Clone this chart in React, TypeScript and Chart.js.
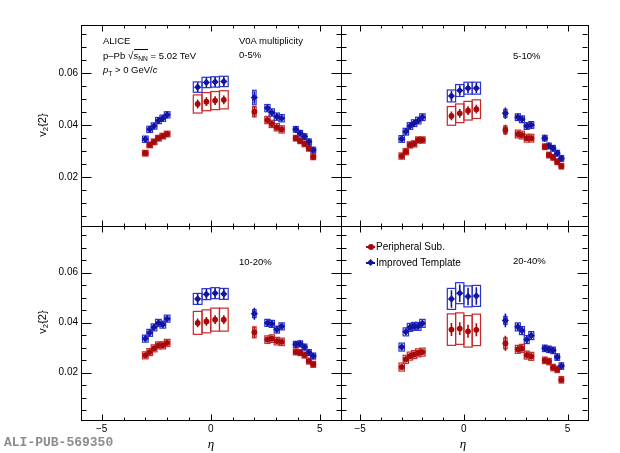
import React, { useEffect, useRef } from 'react';
import { Chart, registerables } from 'chart.js';

Chart.register(...registerables);

// ---------- data ----------
const eta = [-3.0, -2.8, -2.6, -2.4, -2.2, -2.0, -0.6, -0.2, 0.2, 0.6, 2.0, 2.6, 2.8, 3.03, 3.25, 3.9, 4.1, 4.3, 4.5, 4.7];
const boxHalfWidth = [0.13, 0.13, 0.13, 0.13, 0.13, 0.13, 0.2, 0.2, 0.2, 0.2, 0.08, 0.12, 0.12, 0.12, 0.12, 0.11, 0.11, 0.11, 0.11, 0.11];

const seriesNames = ['Peripheral Sub.', 'Improved Template'];
const centralityLabels = ['0-5%', '5-10%', '10-20%', '20-40%'];
const xMajorTicks = [-5, 0, 5];
const yMajorTicks = [0.02, 0.04, 0.06];

// 0-5%
const per1 = [0.0291, 0.0323, 0.0335, 0.0349, 0.0357, 0.0365, 0.0481, 0.0490, 0.0494, 0.0497, 0.0451, 0.0419, 0.0404, 0.0391, 0.0383, 0.0349, 0.0339, 0.0327, 0.0310, 0.0277];
const imp1 = [0.0345, 0.0383, 0.0396, 0.0417, 0.0426, 0.0439, 0.0546, 0.0564, 0.0566, 0.0568, 0.0506, 0.0465, 0.0448, 0.0432, 0.0426, 0.0383, 0.0368, 0.0355, 0.0335, 0.0303];
const sysPer1 = [0.0011, 0.0011, 0.0011, 0.0011, 0.0011, 0.0011, 0.0035, 0.0035, 0.0035, 0.0035, 0.0020, 0.0014, 0.0014, 0.0014, 0.0014, 0.0011, 0.0011, 0.0011, 0.0011, 0.0011];
const sysImp1 = [0.0012, 0.0012, 0.0012, 0.0012, 0.0012, 0.0012, 0.0020, 0.0020, 0.0020, 0.0020, 0.0028, 0.0014, 0.0014, 0.0014, 0.0014, 0.0011, 0.0011, 0.0011, 0.0011, 0.0011];
const statPer1 = [0.0011, 0.0011, 0.0011, 0.0011, 0.0011, 0.0011, 0.0017, 0.0017, 0.0017, 0.0017, 0.0020, 0.0012, 0.0012, 0.0012, 0.0012, 0.0011, 0.0011, 0.0011, 0.0011, 0.0011];
const statImp1 = [0.0012, 0.0012, 0.0012, 0.0012, 0.0012, 0.0012, 0.0019, 0.0019, 0.0019, 0.0019, 0.0024, 0.0013, 0.0013, 0.0013, 0.0013, 0.0012, 0.0012, 0.0012, 0.0012, 0.0012];

// 5-10%
const per2 = [0.0280, 0.0297, 0.0323, 0.0327, 0.0342, 0.0342, 0.0435, 0.0445, 0.0455, 0.0461, 0.0381, 0.0365, 0.0361, 0.0349, 0.0349, 0.0316, 0.0284, 0.0275, 0.0258, 0.0241];
const imp2 = [0.0346, 0.0374, 0.0396, 0.0407, 0.0417, 0.0430, 0.0512, 0.0533, 0.0542, 0.0542, 0.0445, 0.0430, 0.0422, 0.0396, 0.0400, 0.0349, 0.0319, 0.0310, 0.0291, 0.0271];
const sysPer2 = [0.0012, 0.0012, 0.0012, 0.0012, 0.0012, 0.0012, 0.0036, 0.0036, 0.0036, 0.0036, 0.0015, 0.0015, 0.0015, 0.0015, 0.0015, 0.0011, 0.0011, 0.0011, 0.0011, 0.0011];
const sysImp2 = [0.0013, 0.0013, 0.0013, 0.0013, 0.0013, 0.0013, 0.0023, 0.0023, 0.0023, 0.0023, 0.0015, 0.0013, 0.0013, 0.0013, 0.0013, 0.0011, 0.0011, 0.0011, 0.0011, 0.0011];
const statPer2 = [0.0011, 0.0011, 0.0011, 0.0011, 0.0011, 0.0011, 0.0017, 0.0017, 0.0017, 0.0017, 0.0020, 0.0012, 0.0012, 0.0012, 0.0012, 0.0011, 0.0011, 0.0011, 0.0011, 0.0011];
const statImp2 = [0.0012, 0.0012, 0.0012, 0.0012, 0.0012, 0.0012, 0.0020, 0.0020, 0.0020, 0.0020, 0.0022, 0.0013, 0.0013, 0.0013, 0.0013, 0.0012, 0.0012, 0.0012, 0.0012, 0.0012];

// 10-20%
const per3 = [0.0269, 0.0282, 0.0297, 0.0309, 0.0309, 0.0319, 0.0399, 0.0405, 0.0412, 0.0412, 0.0361, 0.0332, 0.0336, 0.0326, 0.0323, 0.0283, 0.0280, 0.0270, 0.0246, 0.0233];
const imp3 = [0.0336, 0.0359, 0.0381, 0.0399, 0.0392, 0.0416, 0.0495, 0.0514, 0.0518, 0.0515, 0.0436, 0.0399, 0.0395, 0.0372, 0.0385, 0.0313, 0.0315, 0.0302, 0.0280, 0.0266];
const sysPer3 = [0.0014, 0.0014, 0.0014, 0.0014, 0.0014, 0.0014, 0.0046, 0.0046, 0.0046, 0.0046, 0.0022, 0.0015, 0.0015, 0.0015, 0.0015, 0.0012, 0.0012, 0.0012, 0.0012, 0.0012];
const sysImp3 = [0.0014, 0.0014, 0.0014, 0.0014, 0.0014, 0.0014, 0.0022, 0.0022, 0.0022, 0.0022, 0.0016, 0.0014, 0.0014, 0.0014, 0.0014, 0.0012, 0.0012, 0.0012, 0.0012, 0.0012];
const statPer3 = [0.0011, 0.0011, 0.0011, 0.0011, 0.0011, 0.0011, 0.0018, 0.0018, 0.0018, 0.0018, 0.0022, 0.0012, 0.0012, 0.0012, 0.0012, 0.0011, 0.0011, 0.0011, 0.0011, 0.0011];
const statImp3 = [0.0012, 0.0012, 0.0012, 0.0012, 0.0012, 0.0012, 0.0021, 0.0021, 0.0021, 0.0021, 0.0024, 0.0013, 0.0013, 0.0013, 0.0013, 0.0012, 0.0012, 0.0012, 0.0012, 0.0012];

// 20-40%
const per4 = [0.0222, 0.0253, 0.0266, 0.0272, 0.0279, 0.0282, 0.0372, 0.0376, 0.0365, 0.0371, 0.0317, 0.0293, 0.0297, 0.0270, 0.0265, 0.0249, 0.0244, 0.0220, 0.0213, 0.0171];
const imp4 = [0.0302, 0.0363, 0.0381, 0.0385, 0.0385, 0.0397, 0.0495, 0.0518, 0.0505, 0.0507, 0.0409, 0.0383, 0.0368, 0.0332, 0.0348, 0.0297, 0.0293, 0.0289, 0.0262, 0.0226];
const sysPer4 = [0.0016, 0.0016, 0.0016, 0.0016, 0.0016, 0.0016, 0.0063, 0.0063, 0.0063, 0.0063, 0.0022, 0.0016, 0.0016, 0.0016, 0.0016, 0.0013, 0.0013, 0.0013, 0.0013, 0.0013];
const sysImp4 = [0.0016, 0.0016, 0.0016, 0.0016, 0.0016, 0.0016, 0.0042, 0.0042, 0.0042, 0.0042, 0.0016, 0.0016, 0.0016, 0.0016, 0.0016, 0.0013, 0.0013, 0.0013, 0.0013, 0.0013];
const statPer4 = [0.0012, 0.0012, 0.0012, 0.0012, 0.0012, 0.0012, 0.0026, 0.0026, 0.0026, 0.0026, 0.0030, 0.0014, 0.0014, 0.0014, 0.0014, 0.0012, 0.0012, 0.0012, 0.0012, 0.0012];
const statImp4 = [0.0013, 0.0013, 0.0013, 0.0013, 0.0013, 0.0013, 0.0035, 0.0035, 0.0035, 0.0035, 0.0028, 0.0015, 0.0015, 0.0015, 0.0015, 0.0013, 0.0013, 0.0013, 0.0013, 0.0013];

// ---------- style ----------
const RED = 'rgb(165,10,10)';
const RED_BOX = 'rgb(200,40,40)';
const BLUE = 'rgb(20,20,160)';
const BLUE_BOX = 'rgb(40,50,210)';
const FONT = "'Liberation Sans', Arial, Helvetica, sans-serif";

const W = 620;
const H = 453;
const YW = 30;
const XH = 20;
const X_MIN = -5.95;
const X_MAX = 5.95;
const Y_MIN = 0.001;
const Y_MAX = 0.0787;

Chart.defaults.font.family = FONT;
Chart.defaults.color = '#000';

type PanelDef = {
  rect: { l: number; t: number; r: number; b: number };
  showX: boolean;
  showY: boolean;
  per: number[];
  imp: number[];
  sysPer: number[];
  sysImp: number[];
  statPer: number[];
  statImp: number[];
};

const panels: PanelDef[] = [
  { rect: { l: 81, t: 24.7, r: 340.5, b: 226 }, showX: false, showY: true, per: per1, imp: imp1, sysPer: sysPer1, sysImp: sysImp1, statPer: statPer1, statImp: statImp1 },
  { rect: { l: 340.5, t: 24.7, r: 587.3, b: 226 }, showX: false, showY: false, per: per2, imp: imp2, sysPer: sysPer2, sysImp: sysImp2, statPer: statPer2, statImp: statImp2 },
  { rect: { l: 81, t: 226, r: 340.5, b: 420 }, showX: true, showY: true, per: per3, imp: imp3, sysPer: sysPer3, sysImp: sysImp3, statPer: statPer3, statImp: statImp3 },
  { rect: { l: 340.5, t: 226, r: 587.3, b: 420 }, showX: true, showY: false, per: per4, imp: imp4, sysPer: sysPer4, sysImp: sysImp4, statPer: statPer4, statImp: statImp4 },
];

function isXMajor(v: number) {
  return xMajorTicks.some((m) => Math.abs(m - v) < 1e-6);
}
function isYMajor(v: number) {
  return yMajorTicks.some((m) => Math.abs(m - v) < 1e-6);
}

function Panel({ def }: { def: PanelDef }) {
  const ref = useRef<HTMLCanvasElement | null>(null);
  useEffect(() => {
    if (!ref.current) return;
    const series = [
      { values: def.per, sys: def.sysPer, stat: def.statPer, color: RED, box: RED_BOX },
      { values: def.imp, sys: def.sysImp, stat: def.statImp, color: BLUE, box: BLUE_BOX },
    ];
    const errPlugin = {
      id: 'errboxes',
      beforeDatasetsDraw(chart: any) {
        const { ctx, chartArea: a } = chart;
        const x = chart.scales.x;
        const y = chart.scales.y;
        ctx.save();
        ctx.beginPath();
        ctx.rect(a.left, a.top, a.right - a.left, a.bottom - a.top);
        ctx.clip();
        series.forEach((s) => {
          ctx.strokeStyle = s.box;
          ctx.lineWidth = 1.2;
          eta.forEach((e, i) => {
            const x0 = x.getPixelForValue(e - boxHalfWidth[i]);
            const x1 = x.getPixelForValue(e + boxHalfWidth[i]);
            const y0 = y.getPixelForValue(s.values[i] + s.sys[i]);
            const y1 = y.getPixelForValue(s.values[i] - s.sys[i]);
            ctx.strokeRect(x0, y0, x1 - x0, y1 - y0);
          });
          ctx.strokeStyle = s.color;
          ctx.lineWidth = 1.6;
          eta.forEach((e, i) => {
            const px = x.getPixelForValue(e);
            ctx.beginPath();
            ctx.moveTo(px, y.getPixelForValue(s.values[i] + s.stat[i]));
            ctx.lineTo(px, y.getPixelForValue(s.values[i] - s.stat[i]));
            ctx.stroke();
          });
        });
        ctx.restore();
      },
      afterDraw(chart: any) {
        const { ctx, chartArea: a } = chart;
        const x = chart.scales.x;
        const y = chart.scales.y;
        ctx.save();
        ctx.strokeStyle = '#000';
        ctx.lineWidth = 1;
        ctx.strokeRect(Math.round(a.left) + 0.5, Math.round(a.top) + 0.5, Math.round(a.right - a.left), Math.round(a.bottom - a.top));
        const line = (x0: number, y0: number, x1: number, y1: number) => {
          ctx.beginPath();
          ctx.moveTo(x0, y0);
          ctx.lineTo(x1, y1);
          ctx.stroke();
        };
        const bot = Math.round(a.bottom) + 0.5;
        const top = Math.round(a.top) + 0.5;
        const lft = Math.round(a.left) + 0.5;
        const rgt = Math.round(a.right) + 0.5;
        x.ticks.forEach((t: any) => {
          const px = Math.round(x.getPixelForValue(t.value)) + 0.5;
          const len = isXMajor(t.value) ? 6 : 3;
          line(px, bot, px, bot - len);
          line(px, top, px, top + len);
        });
        y.ticks.forEach((t: any) => {
          const py = Math.round(y.getPixelForValue(t.value)) + 0.5;
          const len = isYMajor(t.value) ? 10 : 5;
          line(lft, py, lft + len, py);
          line(rgt, py, rgt - len, py);
        });
        ctx.restore();
      },
    };
    const r = def.rect;
    const chart = new Chart(ref.current, {
      type: 'scatter',
      data: {
        datasets: [
          {
            label: seriesNames[0],
            data: eta.map((e, i) => ({ x: e, y: def.per[i] })),
            pointStyle: 'circle',
            pointRadius: 2.9,
            backgroundColor: RED,
            borderColor: RED,
            borderWidth: 0,
          },
          {
            label: seriesNames[1],
            data: eta.map((e, i) => ({ x: e, y: def.imp[i] })),
            pointStyle: 'rectRot',
            pointRadius: 3.6,
            backgroundColor: BLUE,
            borderColor: BLUE,
            borderWidth: 0,
          },
        ],
      },
      options: {
        responsive: false,
        animation: false,
        events: [],
        layout: {
          padding: { left: r.l - YW, top: r.t, right: W - r.r, bottom: H - r.b - XH },
        },
        plugins: { legend: { display: false }, tooltip: { enabled: false } },
        scales: {
          x: {
            type: 'linear',
            min: X_MIN,
            max: X_MAX,
            grid: { display: false, drawTicks: false },
            border: { display: false },
            ticks: {
              display: def.showX,
              stepSize: 1,
              includeBounds: false,
              autoSkip: false,
              maxRotation: 0,
              padding: 3,
              color: '#000',
              font: { size: 10, family: FONT },
              callback: (v: any) => (isXMajor(v) ? (v < 0 ? '\u2212' + Math.abs(v) : String(v)) : ''),
            },
            afterFit: (s: any) => {
              s.height = XH;
            },
          },
          y: {
            type: 'linear',
            min: Y_MIN,
            max: Y_MAX,
            grid: { display: false, drawTicks: false },
            border: { display: false },
            ticks: {
              display: def.showY,
              stepSize: 0.005,
              includeBounds: false,
              autoSkip: false,
              padding: 3,
              color: '#000',
              font: { size: 10, family: FONT },
              callback: (v: any) => (isYMajor(v) ? Number(v).toFixed(2) : ''),
            },
            afterFit: (s: any) => {
              s.width = YW;
            },
          },
        },
      },
      plugins: [errPlugin],
    } as any);
    return () => chart.destroy();
  }, [def]);
  return (
    <canvas
      ref={ref}
      width={W}
      height={H}
      style={{ position: 'absolute', left: 0, top: 0, width: W, height: H, pointerEvents: 'none' }}
    />
  );
}

const txt = (left: number, cy: number, size = 9.5): React.CSSProperties => ({
  position: 'absolute',
  left,
  top: cy,
  transform: 'translateY(-50%)',
  fontSize: size,
  lineHeight: 1,
  whiteSpace: 'nowrap',
  fontFamily: FONT,
  color: '#000',
});

const sub: React.CSSProperties = { fontSize: '0.7em', verticalAlign: '-0.35em', lineHeight: 0 };

export default function App() {
  return (
    <div style={{ position: 'fixed', left: 0, top: 0, width: W, height: H, background: '#fff', overflow: 'hidden' }}>
      {panels.map((p, i) => (
        <Panel key={i} def={p} />
      ))}
      {/* annotations */}
      <div style={txt(103, 40.7)}>ALICE</div>
      <div style={txt(103, 55)}>
        p–Pb{' '}
        <span style={{ fontSize: '1.1em' }}>√</span>
        <span style={{ display: 'inline-block', borderTop: '1px solid #000', lineHeight: 1, paddingTop: 0.5 }}>
          <i>s</i>
          <span style={sub}>NN</span>
        </span>{' '}
        = 5.02 TeV
      </div>
      <div style={txt(103, 70)}>
        <i>p</i>
        <span style={sub}>T</span> &gt; 0 GeV/<i>c</i>
      </div>
      <div style={txt(239, 40.7)}>V0A multiplicity</div>
      <div style={txt(239, 55)}>{centralityLabels[0]}</div>
      <div style={txt(513, 56)}>{centralityLabels[1]}</div>
      <div style={txt(239, 261.7)}>{centralityLabels[2]}</div>
      <div style={txt(513, 261)}>{centralityLabels[3]}</div>

      {/* legend */}
      <div style={{ position: 'absolute', left: 366, top: 246.2, width: 9, height: 1.5, background: RED }} />
      <div style={{ position: 'absolute', left: 367.5, top: 244, width: 6, height: 6, borderRadius: '50%', background: RED }} />
      <div style={txt(376, 247, 10)}>{seriesNames[0]}</div>
      <div style={{ position: 'absolute', left: 366, top: 262.2, width: 9, height: 1.5, background: BLUE }} />
      <div style={{ position: 'absolute', left: 367.7, top: 260.2, width: 5.2, height: 5.2, transform: 'rotate(45deg)', background: BLUE }} />
      <div style={txt(376, 263, 10)}>{seriesNames[1]}</div>

      {/* axis titles */}
      {[125, 322].map((cy, i) => (
        <div
          key={i}
          style={{
            position: 'absolute',
            left: 42,
            top: cy,
            transform: 'translate(-50%, -50%) rotate(-90deg)',
            fontSize: 11,
            lineHeight: 1,
            whiteSpace: 'nowrap',
            fontFamily: FONT,
          }}
        >
          v<span style={sub}>2</span>{'{2}'}
        </div>
      ))}
      {[211, 463].map((cx, i) => (
        <div
          key={i}
          style={{
            position: 'absolute',
            left: cx,
            top: 443,
            transform: 'translate(-50%, -50%)',
            fontSize: 13,
            lineHeight: 1,
            fontStyle: 'italic',
            fontFamily: "'Liberation Serif', 'DejaVu Serif', serif",
          }}
        >
          η
        </div>
      ))}
      <div
        style={{
          position: 'absolute',
          left: 4,
          top: 441.5,
          transform: 'translateY(-50%)',
          fontSize: 13,
          lineHeight: 1,
          fontWeight: 'bold',
          color: '#8c8c8c',
          fontFamily: "'Liberation Mono', 'DejaVu Sans Mono', monospace",
          whiteSpace: 'nowrap',
        }}
      >
        ALI-PUB-569350
      </div>
    </div>
  );
}
